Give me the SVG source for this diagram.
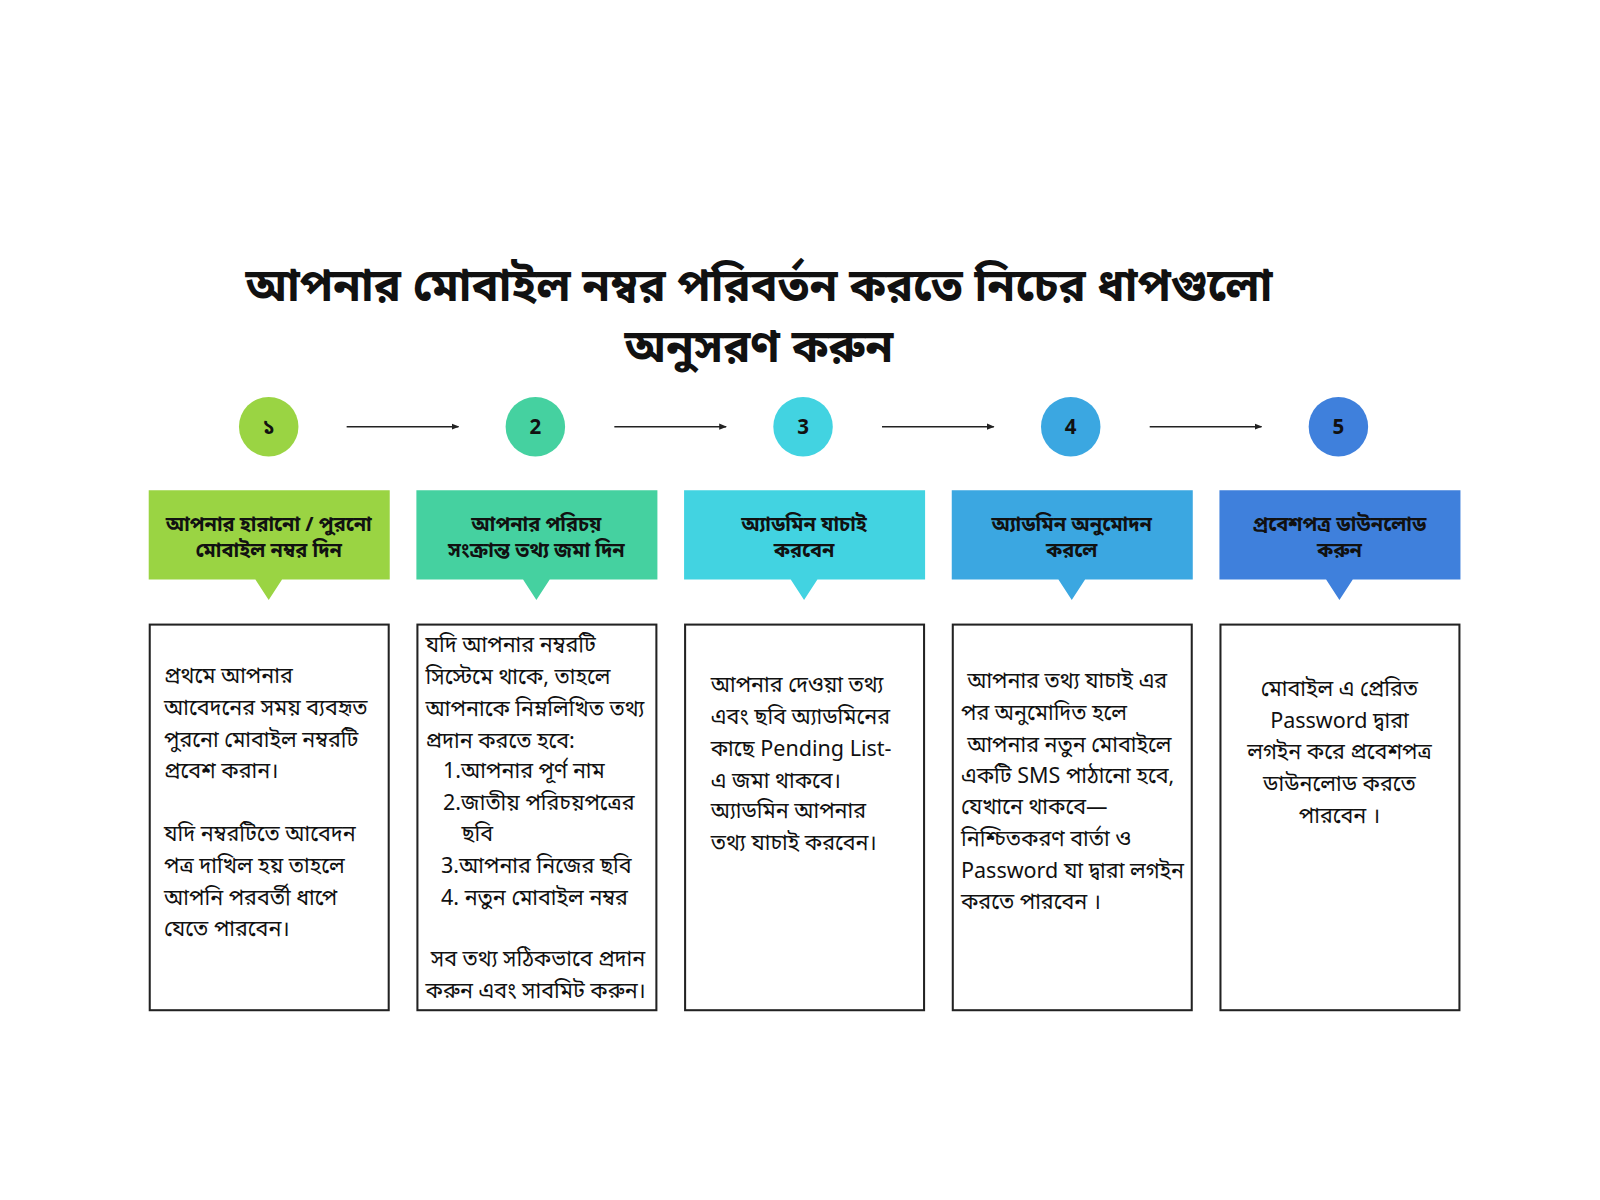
<svg xmlns="http://www.w3.org/2000/svg" width="1600" height="1200" viewBox="0 0 1600 1200">
<style>
.t{font-family:"Noto Sans","Noto Sans Bengali","Noto Sans CJK SC",sans-serif;fill:#111}
.h{font-size:44px;font-weight:bold;text-anchor:middle}
.n{font-size:20px;font-weight:bold;text-anchor:middle}
.hd{font-size:19.5px;font-weight:bold;text-anchor:middle}
.b{font-size:21px}
.c{text-anchor:middle}
.box{fill:#fff;stroke:#222;stroke-width:2}
.ar{stroke:#222;stroke-width:1.5;fill:none;marker-end:url(#m)}
</style>
<defs><marker id="m" viewBox="0 0 10 10" refX="9" refY="5" markerWidth="5" markerHeight="5" orient="auto"><path d="M0,1L10,5L0,9z" fill="#222"/></marker></defs>
<rect width="1600" height="1200" fill="#fff"/>
<g transform="scale(1.0256)">
<text class="t h" x="740" y="293">আপনার মোবাইল নম্বর পরিবর্তন করতে নিচের ধাপগুলো</text>
<text class="t h" x="740" y="353">অনুসরণ করুন</text>
<g id="connectors">
<line class="ar" x1="338" y1="416" x2="447" y2="416"/>
<line class="ar" x1="599" y1="416" x2="708" y2="416"/>
<line class="ar" x1="860" y1="416" x2="969" y2="416"/>
<line class="ar" x1="1121" y1="416" x2="1230" y2="416"/>
</g>
<g id="step1">
<circle cx="262" cy="416" r="29" fill="#9AD443"/><text class="t n" x="262" y="423">১</text>
<path d="M145,478h235v87h-105l-13,20l-13,-20h-104z" fill="#9AD443"/>
<text class="t hd" x="262" y="518">আপনার হারানো / পুরনো</text><text class="t hd" x="262" y="543">মোবাইল নম্বর দিন</text>
<rect class="box" x="146" y="609" width="233" height="376"/>
<text class="t b" x="160" y="666">প্রথমে আপনার</text><text class="t b" x="160" y="697">আবেদনের সময় ব্যবহৃত</text><text class="t b" x="160" y="728">পুরনো মোবাইল নম্বরটি</text><text class="t b" x="160" y="759">প্রবেশ করান।</text>
<text class="t b" x="160" y="820">যদি নম্বরটিতে আবেদন</text><text class="t b" x="160" y="851">পত্র দাখিল হয় তাহলে</text><text class="t b" x="160" y="882">আপনি পরবর্তী ধাপে</text><text class="t b" x="160" y="913">যেতে পারবেন।</text>
</g>
<g id="step2">
<circle cx="522" cy="416" r="29" fill="#45D1A0"/><text class="t n" x="522" y="423">2</text>
<path d="M406,478h235v87h-105l-13,20l-13,-20h-104z" fill="#45D1A0"/>
<text class="t hd" x="523" y="518">আপনার পরিচয়</text><text class="t hd" x="523" y="543">সংক্রান্ত তথ্য জমা দিন</text>
<rect class="box" x="407" y="609" width="233" height="376"/>
<text class="t b" x="415" y="636">যদি আপনার নম্বরটি</text><text class="t b" x="415" y="667">সিস্টেমে থাকে, তাহলে</text><text class="t b" x="415" y="698">আপনাকে নিম্নলিখিত তথ্য</text><text class="t b" x="415" y="729">প্রদান করতে হবে:</text>
<text class="t b" x="432" y="759">1.আপনার পূর্ণ নাম</text><text class="t b" x="432" y="790">2.জাতীয় পরিচয়পত্রের</text><text class="t b" x="450" y="820">ছবি</text><text class="t b" x="430" y="851">3.আপনার নিজের ছবি</text><text class="t b" x="430" y="882">4. নতুন মোবাইল নম্বর</text>
<text class="t b" x="420" y="942">সব তথ্য সঠিকভাবে প্রদান</text><text class="t b" x="415" y="973">করুন এবং সাবমিট করুন।</text>
</g>
<g id="step3">
<circle cx="783" cy="416" r="29" fill="#42D3E1"/><text class="t n" x="783" y="423">3</text>
<path d="M667,478h235v87h-105l-13,20l-13,-20h-104z" fill="#42D3E1"/>
<text class="t hd" x="784" y="518">অ্যাডমিন যাচাই</text><text class="t hd" x="784" y="543">করবেন</text>
<rect class="box" x="668" y="609" width="233" height="376"/>
<text class="t b" x="693" y="675">আপনার দেওয়া তথ্য</text><text class="t b" x="693" y="706">এবং ছবি অ্যাডমিনের</text><text class="t b" x="693" y="737">কাছে Pending List-</text><text class="t b" x="693" y="768">এ জমা থাকবে।</text><text class="t b" x="693" y="798">অ্যাডমিন আপনার</text><text class="t b" x="693" y="829">তথ্য যাচাই করবেন।</text>
</g>
<g id="step4">
<circle cx="1044" cy="416" r="29" fill="#3BA7E1"/><text class="t n" x="1044" y="423">4</text>
<path d="M928,478h235v87h-105l-13,20l-13,-20h-104z" fill="#3BA7E1"/>
<text class="t hd" x="1045" y="518">অ্যাডমিন অনুমোদন</text><text class="t hd" x="1045" y="543">করলে</text>
<rect class="box" x="929" y="609" width="233" height="376"/>
<text class="t b" x="943" y="671">আপনার তথ্য যাচাই এর</text><text class="t b" x="937" y="702">পর অনুমোদিত হলে</text><text class="t b" x="943" y="733">আপনার নতুন মোবাইলে</text><text class="t b" x="937" y="763">একটি SMS পাঠানো হবে,</text><text class="t b" x="937" y="794">যেখানে থাকবে—</text><text class="t b" x="937" y="825">নিশ্চিতকরণ বার্তা ও</text><text class="t b" x="937" y="856">Password যা দ্বারা লগইন</text><text class="t b" x="937" y="886">করতে পারবেন ।</text>
</g>
<g id="step5">
<circle cx="1305" cy="416" r="29" fill="#3F80DC"/><text class="t n" x="1305" y="423">5</text>
<path d="M1189,478h235v87h-105l-13,20l-13,-20h-104z" fill="#3F80DC"/>
<text class="t hd" x="1306" y="518">প্রবেশপত্র ডাউনলোড</text><text class="t hd" x="1306" y="543">করুন</text>
<rect class="box" x="1190" y="609" width="233" height="376"/>
<text class="t b c" x="1306" y="679">মোবাইল এ প্রেরিত</text><text class="t b c" x="1306" y="710">Password দ্বারা</text><text class="t b c" x="1306" y="740">লগইন করে প্রবেশপত্র</text><text class="t b c" x="1306" y="771">ডাউনলোড করতে</text><text class="t b c" x="1306" y="802">পারবেন ।</text>
</g>
</g>
</svg>
